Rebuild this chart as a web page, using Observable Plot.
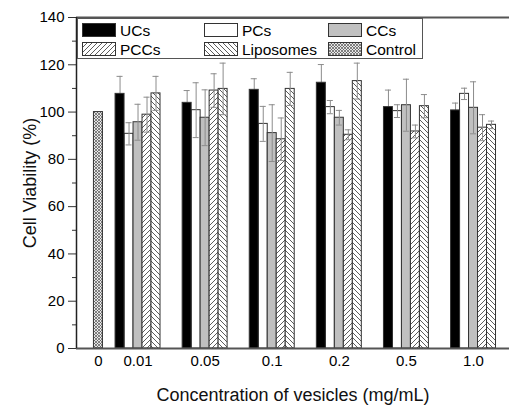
<!DOCTYPE html>
<html><head><meta charset="utf-8">
<script src="https://cdn.jsdelivr.net/npm/d3@7"></script>
<script src="https://cdn.jsdelivr.net/npm/@observablehq/plot@0.6"></script>
<style>body{margin:0;background:#fff} svg{display:block}</style>
</head><body><div id="chart"></div>
<script>
// ---- data ----
const concentrations = ["0", "0.01", "0.05", "0.1", "0.2", "0.5", "1.0"];
const seriesNames = ["UCs", "PCs", "CCs", "PCCs", "Liposomes"];
const controlValue = 100;
const UCs = [107.7, 103.9, 109.4, 112.4, 102.1, 100.7];
const UCsErr = [7.4, 5.2, 4.7, 7.7, 7.2, 3.1];
const PCs = [90.8, 100.8, 95.0, 102.1, 100.4, 107.7];
const PCsErr = [4.7, 11.6, 7.4, 2.8, 2.7, 2.4];
const CCs = [95.7, 97.6, 91.1, 97.6, 102.9, 101.8];
const CCsErr = [7.6, 11.8, 12.0, 3.1, 11.0, 11.0];
const PCCs = [98.9, 109.1, 88.5, 90.4, 91.8, 93.4];
const PCCsErr = [7.4, 7.1, 9.0, 2.1, 2.7, 5.5];
const Liposomes = [107.9, 109.8, 109.8, 113.1, 102.5, 94.6];
const LiposomesErr = [7.2, 10.9, 7.0, 7.6, 4.9, 1.6];
const yTicks = [0, 20, 40, 60, 80, 100, 120, 140];
const yMinorTicks = [10, 30, 50, 70, 90, 110, 130];
const legendNames = ["UCs", "PCs", "CCs", "PCCs", "Liposomes", "Control"];

// ---- layout helpers ----
const values = {UCs, PCs, CCs, PCCs, Liposomes};
const errs = {UCs: UCsErr, PCs: PCsErr, CCs: CCsErr, PCCs: PCCsErr, Liposomes: LiposomesErr};
const groupPos = i => (i === 0 ? 0.41 : i); // index in concentrations -> x position
const bw = 0.134; // bar width in x units
const cap = 0.045;
const rows = [];
concentrations.slice(1).forEach((c, gi) => {
  seriesNames.forEach((s, k) => {
    const center = groupPos(gi + 1);
    const x1 = center + (k - 2.5) * bw;
    rows.push({conc: c, series: s, value: values[s][gi], err: errs[s][gi], x1, x2: x1 + bw, pos: x1 + bw / 2});
  });
});
const control = [{conc: "0", series: "Control", value: controlValue, x1: groupPos(0) - bw / 2, x2: groupPos(0) + bw / 2}];

const fills = {
  UCs: "black", PCs: "white", CCs: "#c0c0c0",
  PCCs: "url(#pat-pccs)", Liposomes: "url(#pat-lipo)", Control: "url(#pat-ctrl)"
};
const outline = "#333";
const errColor = "#8c8c8c";

const tickPositions = concentrations.map((c, i) => groupPos(i));
const labelAt = new Map(tickPositions.map((p, i) => [p, concentrations[i]]));

const barMark = s => Plot.rectY(s === "Control" ? control : rows.filter(d => d.series === s), {
  x1: "x1", x2: "x2", y1: 0, y2: "value", fill: fills[s], stroke: outline, strokeWidth: 1
});

const svg = Plot.plot({
  width: 509, height: 406,
  marginLeft: 76, marginRight: 0, marginTop: 17, marginBottom: 58,
  style: {fontFamily: "Liberation Sans, Arial, sans-serif", color: "black", background: "white"},
  x: {domain: [0.083, 6.536], axis: null},
  y: {domain: [0, 140], axis: null},
  marks: [
    barMark("Control"),
    barMark("PCs"), barMark("CCs"), barMark("PCCs"), barMark("Liposomes"),
    Plot.ruleX(rows, {x: "pos", y1: d => d.value - d.err, y2: d => d.value + d.err, stroke: errColor, strokeWidth: 1}),
    Plot.ruleY(rows, {y: d => d.value + d.err, x1: d => d.pos - cap, x2: d => d.pos + cap, stroke: errColor, strokeWidth: 1}),
    Plot.ruleY(rows, {y: d => d.value - d.err, x1: d => d.pos - cap, x2: d => d.pos + cap, stroke: errColor, strokeWidth: 1}),
    barMark("UCs"),
    Plot.axisY({ticks: yTicks, tickSize: 8, tickPadding: 4, fontSize: 15, label: null, stroke: "#333"}),
    Plot.axisY({ticks: yMinorTicks, tickSize: 4, tickFormat: () => "", label: null, stroke: "#333"}),
    Plot.axisX({ticks: tickPositions, tickSize: 0, tickPadding: 7, fontSize: 15, label: null, tickFormat: d => labelAt.get(d)}),
    Plot.ruleY([0], {stroke: "#555", strokeWidth: 2}),
    Plot.ruleY([140], {stroke: "#555", strokeWidth: 2}),
    Plot.ruleX([0.083], {stroke: "#222", strokeWidth: 1.5}),
    Plot.text(["Cell Viability (%)"], {frameAnchor: "left", dx: -46, rotate: -90, textAnchor: "middle", lineAnchor: "middle", fontSize: 18, fill: "#111", text: d => d}),
    Plot.text(["Concentration of vesicles (mg/mL)"], {frameAnchor: "bottom", dy: 47, textAnchor: "middle", lineAnchor: "middle", fontSize: 18, fill: "#111", text: d => d})
  ]
});

// ---- patterns ----
const sel = d3.select(svg);
const defs = sel.insert("defs", ":first-child");
function hatch(id, dir) {
  const p = defs.append("pattern").attr("id", id).attr("patternUnits", "userSpaceOnUse")
    .attr("width", 5).attr("height", 5);
  p.append("rect").attr("width", 5).attr("height", 5).attr("fill", "white");
  const d = dir > 0 ? "M-1,1 L1,-1 M0,5 L5,0 M4,6 L6,4" : "M-1,4 L1,6 M0,0 L5,5 M4,-1 L6,1";
  p.append("path").attr("d", d).attr("stroke", "#333").attr("stroke-width", 0.8);
}
hatch("pat-pccs", 1);
hatch("pat-lipo", -1);
{
  const p = defs.append("pattern").attr("id", "pat-ctrl").attr("patternUnits", "userSpaceOnUse")
    .attr("width", 3).attr("height", 3);
  p.append("rect").attr("width", 3).attr("height", 3).attr("fill", "#e6e6e6");
  p.append("path").attr("d", "M0,0 L3,3 M3,0 L0,3").attr("stroke", "#555").attr("stroke-width", 0.7);
}

// ---- legend ----
const lg = sel.append("g").attr("font-family", "Liberation Sans, Arial, sans-serif")
  .attr("font-size", 15.5).attr("text-anchor", "start");
lg.append("rect").attr("x", 77.5).attr("y", 18.5).attr("width", 345).attr("height", 40)
  .attr("fill", "white").attr("stroke", "#555").attr("stroke-width", 1);
const colX = [82, 204, 328];
const rowY = [23, 42];
legendNames.forEach((name, i) => {
  const c = i % 3, r = Math.floor(i / 3);
  lg.append("rect").attr("x", colX[c] + 0.5).attr("y", rowY[r] + 0.5).attr("width", 33).attr("height", 13)
    .attr("fill", fills[name]).attr("stroke", outline).attr("stroke-width", 1);
  lg.append("text").attr("x", colX[c] + 38).attr("y", rowY[r] + 12.5).attr("text-anchor", "start")
    .attr("fill", "black").text(name);
});

document.getElementById("chart").appendChild(svg);
</script>
</body></html>
